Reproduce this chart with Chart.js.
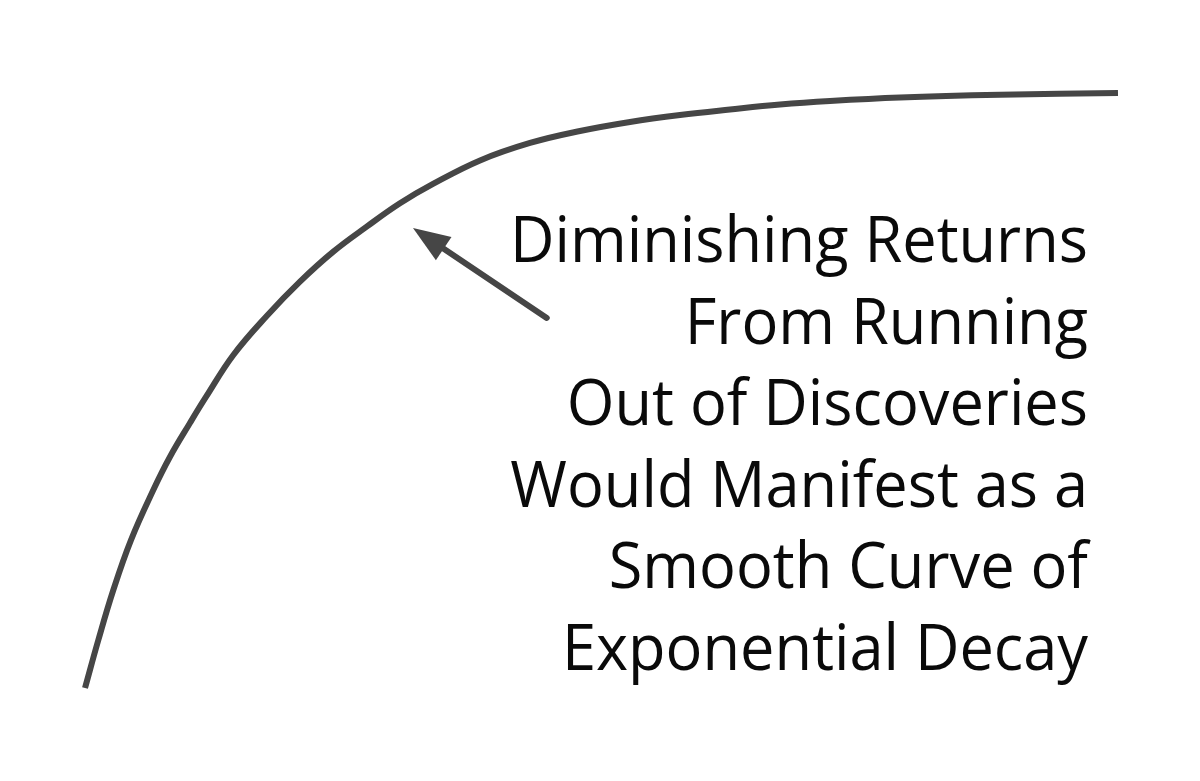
<!DOCTYPE html>
<html>
<head>
<meta charset="utf-8">
<script src="https://cdn.jsdelivr.net/npm/chart.js@4/dist/chart.umd.min.js"></script>
<style>
  html, body { margin: 0; padding: 0; background: #ffffff; }
  #wrap { width: 1200px; height: 781px; }
</style>
</head>
<body>
<div id="wrap"><canvas id="c" width="1200" height="781"></canvas></div>
<script>
// Curve: effort (x) vs. cumulative discoveries (y)
const effort = [0, 1.29, 2.74, 4.45, 6.61, 8.23, 10.16, 11.71, 14.36, 17.59, 20.81, 24.04, 27.27, 30.49, 33.69, 38.24, 43.08, 47.92, 52.76, 57.60, 62.44, 67.28, 72.12, 78.90, 88.58, 100];
const progress = [0, 8.07, 16.47, 24.87, 33.28, 38.87, 44.54, 48.91, 55.97, 62.52, 68.29, 73.33, 77.53, 81.46, 84.71, 88.66, 91.60, 93.61, 95.13, 96.30, 97.23, 98.07, 98.66, 99.24, 99.70, 100];

// Annotation arrow (tail -> tip) in data units
const arrowX = [44.7, 31.75];
const arrowY = [62.2, 77.3];

// Annotation text lines
const noteLines = [
  "Diminishing Returns",
  "From Running",
  "Out of Discoveries",
  "Would Manifest as a",
  "Smooth Curve of",
  "Exponential Decay"
];

const INK = '#464646';

const annotationPlugin = {
  id: 'annotation',
  afterDatasetsDraw(chart) {
    const ctx = chart.ctx;
    const xs = chart.scales.x, ys = chart.scales.y;
    // arrow
    const x0 = xs.getPixelForValue(arrowX[0]), y0 = ys.getPixelForValue(arrowY[0]);
    const x1 = xs.getPixelForValue(arrowX[1]), y1 = ys.getPixelForValue(arrowY[1]);
    const ang = Math.atan2(y1 - y0, x1 - x0);
    const headLen = 37, headHalf = 14;
    const bx = x1 - headLen * Math.cos(ang), by = y1 - headLen * Math.sin(ang);
    ctx.save();
    ctx.strokeStyle = INK;
    ctx.fillStyle = INK;
    ctx.lineWidth = 6;
    ctx.lineCap = 'round';
    ctx.beginPath();
    ctx.moveTo(x0, y0);
    ctx.lineTo(bx + 4 * Math.cos(ang), by + 4 * Math.sin(ang));
    ctx.stroke();
    ctx.beginPath();
    ctx.moveTo(x1, y1);
    ctx.lineTo(bx + headHalf * Math.sin(ang), by - headHalf * Math.cos(ang));
    ctx.lineTo(bx - headHalf * Math.sin(ang), by + headHalf * Math.cos(ang));
    ctx.closePath();
    ctx.fill();
    ctx.restore();

    // text block, right aligned
    ctx.save();
    ctx.fillStyle = '#0a0a0a';
    ctx.font = '64px "Open Sans", "Noto Sans", sans-serif';
    ctx.textAlign = 'right';
    ctx.textBaseline = 'alphabetic';
    const w = ctx.measureText(noteLines[0]).width;
    const sx = 578 / w;
    const right = 1088, firstBase = 262, lineGap = 81.6;
    noteLines.forEach((t, i) => {
      ctx.save();
      ctx.translate(right, firstBase + i * lineGap);
      ctx.scale(sx, 1);
      ctx.fillText(t, 0, 0);
      ctx.restore();
    });
    ctx.restore();
  }
};

new Chart(document.getElementById('c'), {
  type: 'line',
  data: {
    datasets: [{
      data: effort.map((x, i) => ({ x: x, y: progress[i] })),
      borderColor: INK,
      borderWidth: 6,
      pointRadius: 0,
      tension: 0.4,
      fill: false,
      clip: false
    }]
  },
  options: {
    responsive: false,
    animation: false,
    devicePixelRatio: 1,
    layout: { padding: 0 },
    plugins: { legend: { display: false }, tooltip: { enabled: false }, title: { display: false } },
    scales: {
      x: { type: 'linear', min: -8.23, max: 107.94, display: false },
      y: { type: 'linear', min: -15.63, max: 115.63, display: false }
    }
  },
  plugins: [annotationPlugin]
});
</script>
</body>
</html>
